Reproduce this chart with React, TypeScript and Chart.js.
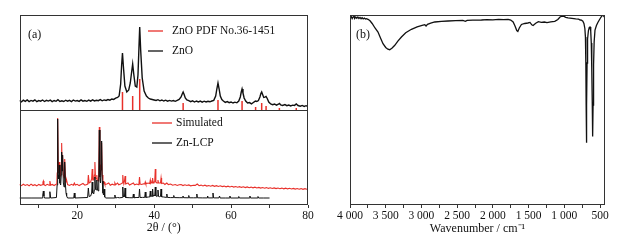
import React, { useEffect, useRef } from 'react';
import { Chart, registerables } from 'chart.js';

Chart.register(...registerables);

const SERIF = '"Liberation Serif", "Times New Roman", serif';
const RED = '#e8302a';
const INK = '#111111';

// ---------- (a) XRD ----------
const xrdTickValues = [10, 20, 30, 40, 50, 60, 70, 80];
const xrdTickLabels = ['', '20', '', '40', '', '60', '', '80'];
const panelSplit = 95; // lower panel 0-95, upper panel 95-190 (intensity units)

const pdfPositions = [31.77, 34.42, 36.25, 47.54, 56.6, 62.86, 66.38, 67.96, 69.1, 72.56, 76.95];
const pdfIntensities = [18, 14, 31, 7, 10, 9, 3, 7, 4, 2, 2];

const znoPattern: [number, number][] = [
  [5, 9.5], [5.5, 8.2], [6, 9.8], [6.5, 8.6], [7, 10.1], [7.5, 8.4], [8, 9.6], [8.5, 8.9], [9, 10.2], [9.5, 8.3],
  [10, 9.4], [10.5, 8.8], [11, 10.0], [11.5, 8.5], [12, 9.7], [12.5, 8.9], [13, 9.9], [13.5, 8.4], [14, 9.5], [14.5, 8.7],
  [15, 10.3], [15.5, 8.6], [16, 9.2], [16.5, 8.5], [17, 9.8], [17.5, 8.8], [18, 9.6], [18.5, 8.4], [19, 10.0], [19.5, 8.9],
  [20, 9.4], [20.5, 8.6], [21, 10.1], [21.5, 8.8], [22, 9.5], [22.5, 8.7], [23, 9.9], [23.5, 8.9], [24, 10.2], [24.5, 9.1],
  [25, 9.7], [25.5, 9.3], [26, 10.4], [26.5, 9.2], [27, 10.1], [27.5, 9.6], [28, 10.5], [28.5, 9.8], [29, 11], [29.5, 10.6],
  [30, 11.8], [30.5, 12.5], [30.9, 14], [31.3, 26], [31.55, 45], [31.77, 57], [32.0, 44], [32.4, 24], [32.9, 18], [33.4, 20],
  [33.8, 27], [34.15, 38], [34.42, 46], [34.7, 36], [35.1, 24], [35.5, 23], [35.8, 35], [36.05, 62], [36.25, 83], [36.5, 60],
  [36.9, 32], [37.4, 19], [38, 14], [38.5, 12], [39, 11], [39.5, 10.5], [40, 10], [40.5, 9.5], [41, 10.3], [41.5, 9.2],
  [42, 10], [42.5, 9], [43, 9.8], [43.5, 8.8], [44, 9.6], [44.5, 8.9], [45, 9.4], [45.5, 8.7], [46, 9.6], [46.5, 10.5],
  [47, 13], [47.3, 16], [47.54, 18], [47.8, 15.5], [48.1, 12], [48.5, 10], [49, 9.4], [49.5, 8.3], [50, 9.1], [50.5, 8],
  [51, 9], [51.5, 8.1], [52, 8.9], [52.5, 7.9], [53, 8.8], [53.5, 8], [54, 8.7], [54.5, 8.2], [55, 9], [55.5, 9.6],
  [56, 14], [56.3, 21], [56.6, 27], [56.9, 21], [57.2, 14], [57.6, 10.5], [58, 9], [58.5, 7.6], [59, 8.4], [59.5, 7.3],
  [60, 8], [60.5, 7], [61, 7.8], [61.5, 7.2], [62, 9], [62.4, 13], [62.65, 18], [62.86, 21], [63.1, 17], [63.4, 12],
  [63.8, 9], [64.3, 7], [64.8, 7.4], [65.3, 6.2], [65.8, 7.5], [66.1, 8.3], [66.38, 9], [66.7, 8.5], [67.1, 9.5], [67.5, 13],
  [67.75, 16.5], [67.96, 18], [68.2, 15.5], [68.5, 12.5], [68.8, 12.8], [69.1, 13.5], [69.4, 11.5], [69.8, 8], [70.3, 6], [70.8, 5.3],
  [71.3, 6], [71.8, 4.8], [72.3, 5.8], [72.56, 6.5], [72.9, 5.2], [73.4, 4.6], [74, 5.4], [74.5, 4.3], [75, 5], [75.5, 4.1],
  [76, 4.9], [76.5, 4.6], [76.95, 6], [77.4, 4.5], [78, 3.8], [78.5, 4.6], [79, 3.6], [79.5, 4.3], [80, 3.5],
];

const simulatedPattern: [number, number][] = [
  [5, 20.5], [5.5, 19.3], [6, 20.8], [6.5, 19.6], [7, 20.4], [7.5, 19.2], [8, 20.9], [8.5, 19.5], [9, 20.3], [9.5, 19.1],
  [10, 20.6], [10.5, 19.7], [10.95, 20.2], [11.1, 23], [11.2, 24], [11.35, 20.5], [11.7, 19.4], [12.2, 20.7], [12.7, 19.8], [12.9, 24],
  [13.1, 19.9], [13.5, 20.6], [14, 19.5], [14.5, 20.8], [14.7, 21], [14.8, 32], [14.92, 87], [15.06, 38], [15.2, 32], [15.35, 43],
  [15.5, 30], [15.7, 29], [15.85, 40], [15.96, 62], [16.08, 40], [16.15, 42], [16.25, 50], [16.4, 30], [16.6, 27], [16.7, 33],
  [16.8, 46], [16.95, 28], [17.1, 23], [17.3, 24], [17.5, 20.5], [18, 19.6], [18.5, 20.7], [19, 19.8], [19.25, 22], [19.5, 19.9],
  [20, 20.7], [20.5, 19.4], [21, 20.5], [21.5, 21.5], [22, 19.8], [22.5, 20.6], [22.75, 21], [22.9, 30], [23.1, 22], [23.5, 23],
  [23.75, 26], [23.9, 36], [24.05, 25], [24.3, 25], [24.45, 30], [24.6, 43], [24.75, 27], [24.95, 26], [25.1, 30], [25.25, 25],
  [25.45, 24], [25.6, 32], [25.75, 78], [25.9, 36], [26.05, 30], [26.2, 40], [26.35, 62], [26.5, 30], [26.7, 24], [26.85, 22],
  [27.0, 23], [27.2, 20.5], [27.7, 20.9], [28.2, 22], [28.6, 19.8], [29.1, 20.8], [29.6, 20], [29.8, 22], [30, 20.3], [30.5, 22],
  [30.8, 20.2], [31.3, 20.9], [31.7, 22], [31.85, 30], [32.0, 23], [32.15, 22], [32.3, 24], [32.45, 29], [32.6, 21], [33.2, 22],
  [33.6, 20], [34.1, 21], [34.6, 22], [34.9, 20.2], [35.5, 21], [35.9, 20.3], [36.05, 21], [36.2, 28], [36.35, 21], [36.8, 20.5],
  [37.2, 21.2], [37.55, 21], [37.7, 23], [37.85, 21], [38.4, 22], [38.85, 21.5], [39.0, 25], [39.15, 22], [39.3, 23], [39.45, 22],
  [39.6, 27], [39.75, 22], [39.95, 23], [40.15, 23], [40.3, 36], [40.45, 23], [40.7, 22], [40.85, 22], [41.0, 25], [41.15, 22],
  [41.4, 22], [41.65, 22], [41.8, 27], [41.95, 21.5], [42.4, 22], [42.8, 20.5], [43.3, 22], [43.7, 20.4], [44.3, 21], [44.8, 19.8],
  [45.5, 20.5], [46, 19.5], [46.5, 20.3], [47, 20.5], [47.5, 19.4], [48, 20.2], [48.5, 19.5], [49, 20.1], [49.5, 19.2], [50.2, 19.8],
  [50.7, 19.6], [51.2, 21], [51.7, 19.3], [52.2, 19.9], [52.7, 19], [53.2, 19.8], [53.7, 18.9], [54.2, 19.5], [54.7, 18.8], [55.2, 19.6],
  [55.7, 18.7], [56.2, 19.3], [56.7, 18.5], [57.2, 19.2], [57.7, 18.4], [58.2, 18.9], [58.7, 18.2], [59.2, 18.8], [59.7, 18], [60.2, 18.7],
  [60.7, 17.9], [61.2, 18.5], [61.7, 17.8], [62.2, 18.3], [62.7, 17.6], [63.2, 18.2], [63.7, 17.4], [64.2, 18.1], [64.7, 17.3], [65.2, 17.9],
  [65.7, 17.2], [66.2, 17.8], [66.7, 17], [67.2, 17.6], [67.7, 16.9], [68.2, 17.5], [68.7, 16.8], [69.2, 17.4], [69.7, 16.6], [70.2, 17.2],
  [70.7, 16.5], [71.2, 17.1], [71.7, 16.4], [72.2, 17], [72.7, 16.3], [73.2, 16.9], [73.7, 16.2], [74.2, 16.8], [74.7, 16.1], [75.2, 16.7],
  [75.7, 16], [76.2, 16.6], [76.7, 15.9], [77.2, 16.5], [77.7, 15.8], [78.2, 16.4], [78.7, 15.7], [79.2, 16.3], [79.7, 15.7], [80, 16],
];

const lcpPattern: [number, number][] = [
  [5, 7], [8, 7], [10.9, 7], [11.05, 10], [11.2, 14], [11.35, 9], [11.5, 7], [12.7, 7], [12.9, 13.3], [13.1, 7],
  [14.6, 7.5], [14.78, 20], [14.92, 86], [15.06, 30], [15.2, 26], [15.35, 40], [15.5, 22], [15.7, 20], [15.85, 30], [15.96, 53],
  [16.08, 34], [16.15, 38], [16.25, 50], [16.4, 22], [16.6, 18], [16.7, 26], [16.8, 43], [16.95, 20], [17.1, 12], [17.25, 9],
  [17.5, 7], [19.1, 7], [19.25, 12], [19.4, 7], [22.7, 7.5], [22.9, 17], [23.1, 8.5], [23.5, 9], [23.75, 12], [23.9, 23],
  [24.05, 12], [24.3, 11], [24.45, 15], [24.6, 28], [24.75, 16], [24.95, 15], [25.1, 25], [25.25, 16], [25.45, 14], [25.6, 24],
  [25.75, 75], [25.9, 28], [26.05, 22], [26.2, 35], [26.35, 64], [26.5, 24], [26.7, 12], [26.85, 10], [27.0, 16], [27.15, 8],
  [27.4, 7], [29.65, 7], [29.8, 10], [29.95, 7], [30.5, 7.5], [31, 7.2], [31.7, 7.5], [31.85, 18], [32.0, 9], [32.15, 8],
  [32.3, 9], [32.45, 17], [32.6, 7.5], [33.5, 7.3], [34.45, 7.2], [34.6, 11], [34.75, 7.2], [35.3, 7.5], [36.05, 7.5], [36.2, 16],
  [36.35, 7.5], [37.0, 7.6], [37.55, 7.6], [37.7, 13], [37.85, 7.6], [38.5, 8], [38.85, 8], [39.0, 14], [39.15, 8.5], [39.3, 9],
  [39.45, 8.5], [39.6, 16], [39.75, 9], [39.95, 10], [40.15, 9], [40.3, 18], [40.45, 9], [40.7, 8.5], [40.85, 9], [41.0, 15],
  [41.15, 8.5], [41.4, 8.3], [41.65, 8.5], [41.8, 16], [41.95, 8.2], [42.5, 8], [43.15, 7.6], [43.3, 11], [43.45, 7.6], [44.2, 7.4],
  [44.95, 7.4], [45.1, 9.5], [45.25, 7.4], [46.5, 7.3], [47.35, 7.3], [47.5, 9], [47.65, 7.3], [48.85, 7.2], [49, 9.5], [49.15, 7.2],
  [50.2, 7.2], [50.95, 7.2], [51.1, 11], [51.25, 7.2], [52.5, 7.1], [53.75, 7.1], [53.9, 9], [54.05, 7.1], [55.15, 7.1], [55.3, 12],
  [55.45, 7.1], [56.85, 7.1], [57, 9], [57.15, 7], [58.5, 7], [59.55, 7], [59.7, 9], [59.85, 7], [61.85, 7], [62, 8.5],
  [62.15, 7], [64.75, 7], [64.9, 9], [65.05, 7], [66.85, 7], [67, 8.5], [67.15, 7], [68.5, 7], [70, 7],
];

// ---------- (b) FT-IR ----------
const irTickValues = [500, 750, 1000, 1250, 1500, 1750, 2000, 2250, 2500, 2750, 3000, 3250, 3500, 3750, 4000];
const irTickLabels = ['500', '', '1 000', '', '1 500', '', '2 000', '', '2 500', '', '3 000', '', '3 500', '', '4 000'];

const irSpectrum: [number, number][] = [
  [4000, 187], [3985, 188.8], [3970, 186.4], [3955, 188.2], [3945, 190], [3935, 186.6], [3920, 188], [3905, 186.8], [3890, 187.9], [3875, 186.5],
  [3860, 187.6], [3845, 186.3], [3830, 187.3], [3815, 186.1], [3800, 186.9], [3785, 185.9], [3770, 186.4], [3748, 185.7], [3720, 184.2], [3690, 181.5],
  [3650, 177], [3608, 173], [3570, 166.5], [3538, 161.3], [3500, 157.5], [3470, 155.8], [3444, 155.3], [3410, 157], [3373, 159.7], [3330, 163.8],
  [3280, 168], [3220, 172.2], [3140, 175.7], [3060, 178.2], [2990, 179.6], [2953, 180.3], [2935, 179], [2915, 180.6], [2870, 181.8], [2813, 183],
  [2720, 183.6], [2627, 184], [2520, 184.3], [2420, 184.5], [2385, 183.6], [2360, 184.6], [2280, 184.9], [2160, 185], [2080, 185.4], [2000, 185.1],
  [1920, 185.6], [1850, 185.3], [1786, 185.7], [1750, 185], [1716, 183], [1690, 179], [1665, 174.5], [1650, 173.5], [1630, 177], [1600, 180.5],
  [1553, 181.5], [1510, 182], [1480, 182.6], [1455, 180.2], [1437, 179.5], [1400, 181.8], [1363, 183.3], [1321, 182.6], [1280, 183], [1242, 182.3],
  [1190, 183.2], [1133, 183.6], [1090, 185.5], [1060, 188], [1040, 188.6], [1010, 188.9], [980, 187.6], [947, 187.2], [893, 186.7], [840, 186.1],
  [800, 185.8], [777, 185], [760, 184.8], [740, 183.8], [725, 181.5], [712, 176.5], [704, 168], [698, 140], [694, 100], [690, 62.3],
  [686, 100], [681, 142], [674, 166], [662, 174.5], [650, 177.5], [640, 178], [630, 174], [622, 162], [615, 135], [608, 100],
  [603, 68.5], [597, 100], [590, 140], [582, 163], [570, 175], [550, 179.5], [530, 182.5], [510, 185], [485, 188], [463, 190],
  [450, 189.2], [440, 188], [430, 187],
];

const irBox = { left: 30, right: 22, top: 15 };

type Entry = { x1: number; x2: number; y: number; color: string; text: string; tx: number };

function makeOverlay(tag: { text: string; x: number; y: number }, entries: Entry[], split: number | null) {
  return {
    id: 'overlay',
    afterDatasetsDraw(chart: any) {
      const { ctx, chartArea: a } = chart;
      ctx.save();
      ctx.strokeStyle = '#333';
      ctx.lineWidth = 1;
      const l = Math.round(a.left) + 0.5;
      const r = Math.round(a.right) - 0.5;
      const t = Math.round(a.top) + 0.5;
      const b = Math.round(a.bottom) - 0.5;
      ctx.strokeRect(l, t, r - l, b - t);
      if (split !== null) {
        const y = Math.round(chart.scales.y.getPixelForValue(split)) + 0.5;
        ctx.beginPath();
        ctx.moveTo(l, y);
        ctx.lineTo(r, y);
        ctx.stroke();
      }
      ctx.fillStyle = INK;
      ctx.textBaseline = 'middle';
      ctx.textAlign = 'left';
      ctx.font = `12px ${SERIF}`;
      ctx.fillText(tag.text, tag.x, tag.y);
      ctx.font = `11.5px ${SERIF}`;
      for (const e of entries) {
        ctx.strokeStyle = e.color;
        ctx.lineWidth = 1.3;
        ctx.beginPath();
        ctx.moveTo(e.x1, e.y);
        ctx.lineTo(e.x2, e.y);
        ctx.stroke();
        ctx.fillStyle = INK;
        ctx.fillText(e.text, e.tx, e.y);
      }
      ctx.restore();
    },
  };
}

const tickFont = { family: SERIF, size: 11.5 };
const titleFont = { family: SERIF, size: 12 };

export default function App() {
  const leftRef = useRef<HTMLCanvasElement | null>(null);
  const rightRef = useRef<HTMLCanvasElement | null>(null);

  useEffect(() => {
    const pdfData: { x: number; y: number | null }[] = [];
    pdfPositions.forEach((p, i) => {
      pdfData.push({ x: p, y: panelSplit });
      pdfData.push({ x: p, y: panelSplit + pdfIntensities[i] });
      pdfData.push({ x: p, y: null });
    });
    const toPts = (arr: [number, number][], off = 0) => arr.map(([x, y]) => ({ x, y: y + off }));

    const left = new Chart(leftRef.current as HTMLCanvasElement, {
      type: 'line',
      data: {
        datasets: [
          { label: 'ZnO PDF No.36-1451', data: pdfData, borderColor: RED, borderWidth: 1.5, spanGaps: false },
          { label: 'ZnO', data: toPts(znoPattern, panelSplit), borderColor: INK, borderWidth: 1.4 },
          { label: 'Zn-LCP', data: toPts(lcpPattern), borderColor: INK, borderWidth: 1 },
          { label: 'Simulated', data: toPts(simulatedPattern), borderColor: RED, borderWidth: 1.1 },
        ],
      },
      options: {
        responsive: false,
        animation: false,
        devicePixelRatio: 1,
        parsing: false,
        layout: { padding: { left: 19.5, right: 12, top: 15, bottom: 0 } },
        elements: { point: { radius: 0 }, line: { tension: 0 } },
        plugins: { legend: { display: false }, tooltip: { enabled: false } },
        scales: {
          x: {
            type: 'linear',
            min: 5,
            max: 80,
            afterBuildTicks: (s: any) => { s.ticks = xrdTickValues.map((v) => ({ value: v })); },
            afterFit: (s: any) => { s.height = 35; },
            ticks: {
              autoSkip: false,
              maxRotation: 0,
              padding: 1,
              font: tickFont,
              color: INK,
              callback: (v: any) => xrdTickLabels[xrdTickValues.indexOf(Number(v))] ?? '',
            },
            grid: { drawOnChartArea: false, tickLength: 3, color: '#333' },
            border: { display: false },
            title: { display: true, text: '2θ / (°)', font: titleFont, color: INK, padding: { top: 0, bottom: 5 } },
          },
          y: { display: false, min: 0, max: 2 * panelSplit },
        },
      },
      plugins: [
        makeOverlay({ text: '(a)', x: 28, y: 35 }, [
          { x1: 148, x2: 163, y: 31, color: RED, text: 'ZnO PDF No.36-1451', tx: 172 },
          { x1: 148, x2: 163, y: 51, color: INK, text: 'ZnO', tx: 172 },
          { x1: 152, x2: 172, y: 123, color: RED, text: 'Simulated', tx: 176 },
          { x1: 152, x2: 172, y: 143, color: INK, text: 'Zn-LCP', tx: 176 },
        ], panelSplit),
      ],
    } as any);

    const right = new Chart(rightRef.current as HTMLCanvasElement, {
      type: 'line',
      data: {
        datasets: [
          { label: 'FT-IR', data: toPts(irSpectrum), borderColor: INK, borderWidth: 1.3 },
        ],
      },
      options: {
        responsive: false,
        animation: false,
        devicePixelRatio: 1,
        parsing: false,
        layout: { padding: { left: irBox.left, right: irBox.right, top: irBox.top, bottom: 0 } },
        elements: { point: { radius: 0 }, line: { tension: 0 } },
        plugins: { legend: { display: false }, tooltip: { enabled: false } },
        scales: {
          x: {
            type: 'linear',
            min: 430,
            max: 4000,
            reverse: true,
            afterBuildTicks: (s: any) => { s.ticks = irTickValues.map((v) => ({ value: v })); },
            afterFit: (s: any) => { s.height = 35; },
            ticks: {
              autoSkip: false,
              maxRotation: 0,
              padding: 1,
              font: tickFont,
              color: INK,
              callback: (v: any) => irTickLabels[irTickValues.indexOf(Number(v))] ?? '',
            },
            grid: { drawOnChartArea: false, tickLength: 3, color: '#333' },
            border: { display: false },
            title: { display: true, text: 'Wavenumber / cm⁻¹', font: titleFont, color: INK, padding: { top: 0, bottom: 4 } },
          },
          y: { display: false, min: 0, max: 190 },
        },
      },
      plugins: [makeOverlay({ text: '(b)', x: 36, y: 35 }, [], null)],
    } as any);

    return () => {
      left.destroy();
      right.destroy();
    };
  }, []);

  return (
    <div style={{ position: 'absolute', left: 0, top: 0, width: 627, height: 240, background: '#fff' }}>
      <canvas ref={leftRef} width={320} height={240} style={{ position: 'absolute', left: 0, top: 0 }} />
      <canvas ref={rightRef} width={307} height={240} style={{ position: 'absolute', left: 320, top: 0 }} />
    </div>
  );
}
